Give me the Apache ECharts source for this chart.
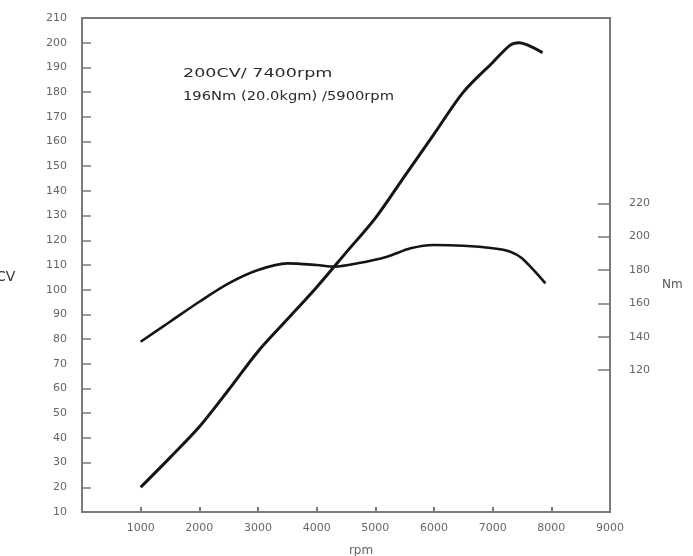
<!DOCTYPE html>
<html>
<head>
<meta charset="utf-8">
<script src="https://cdn.jsdelivr.net/npm/echarts@6/dist/echarts.min.js"></script>
<style>html,body{margin:0;padding:0;background:#fff}#c{width:693px;height:556px}</style>
</head>
<body>
<div id="c"></div>
<script>
// Data
const rpmTicks = [1000, 2000, 3000, 4000, 5000, 6000, 7000, 8000, 9000];
const cvTicks = [10, 20, 30, 40, 50, 60, 70, 80, 90, 100, 110, 120, 130, 140, 150, 160, 170, 180, 190, 200, 210];
const nmTicks = [120, 140, 160, 180, 200, 220];

const powerRpm = [1000, 1500, 2000, 2500, 3000, 3500, 4000, 4500, 5000, 5500, 6000, 6500, 7000, 7300, 7450, 7600, 7850];
const powerCV  = [20, 32, 44.5, 59.5, 75, 88, 101, 115, 129, 146, 163, 180, 192, 199, 200, 199, 196];

const torqueRpm = [1000, 1500, 2000, 2500, 3000, 3500, 4000, 4300, 4700, 5200, 5600, 6000, 6500, 7000, 7300, 7500, 7900];
const torqueNm  = [137, 149, 161, 172, 180, 184, 183, 182, 184, 188, 193, 195, 194.5, 193, 191, 187, 172];

const annotation1 = '200CV/ 7400rpm';
const annotation2 = '196Nm (20.0kgm) /5900rpm';

const pair = (xs, ys) => xs.map((x, i) => [x, ys[i]]);

const labelFont = { color: '#666', fontSize: 11, fontFamily: 'DejaVu Sans' };
const axisCol = '#7a7a7a';

const chart = echarts.init(document.getElementById('c'), null, { renderer: 'canvas' });
chart.setOption({
  animation: false,
  backgroundColor: '#fff',
  grid: { left: 82, top: 18, right: 83, bottom: 44, show: true, borderColor: axisCol, borderWidth: 2, containLabel: false, outerBoundsMode: 'none' },
  xAxis: {
    type: 'value', min: 0, max: 9000, interval: 1000,
    splitLine: { show: false },
    axisLine: { show: true, lineStyle: { color: axisCol, width: 2 } },
    axisTick: { show: true, inside: true, length: 5, lineStyle: { color: axisCol, width: 2 } },
    axisLabel: Object.assign({ margin: 11, formatter: v => (rpmTicks.indexOf(v) >= 0 ? String(v) : '') }, labelFont),
    name: 'rpm', nameLocation: 'middle', nameGap: 33,
    nameTextStyle: Object.assign({}, labelFont, { fontSize: 12, padding: [0, 0, 0, 30] })
  },
  yAxis: [{
    type: 'value', min: 10, max: 210, interval: 10, position: 'left',
    splitLine: { show: false },
    axisLine: { show: true, lineStyle: { color: axisCol, width: 2 } },
    axisTick: { show: true, inside: true, length: 9, lineStyle: { color: axisCol, width: 1.5 }, customValues: cvTicks.slice(1, 20) },
    axisLabel: Object.assign({ margin: 15, customValues: cvTicks }, labelFont)
  }, {
    type: 'value', min: 35, max: 331, position: 'right',
    splitLine: { show: false },
    axisLine: { show: true, lineStyle: { color: axisCol, width: 2 } },
    axisTick: { show: true, inside: true, length: 12, lineStyle: { color: axisCol, width: 1.5 }, customValues: nmTicks },
    axisLabel: Object.assign({ margin: 19, customValues: nmTicks }, labelFont)
  }],
  graphic: [
    { type: 'text', left: -4, top: 270, style: { text: 'CV', fill: '#333', font: '14px "DejaVu Sans"' } },
    { type: 'text', left: 662, top: 279, style: { text: 'Nm', fill: '#555', font: '12px "DejaVu Sans"' } },
    { type: 'text', x: 183, y: 67, scaleX: 1.35, style: { text: annotation1, fill: '#2a2a2a', font: '13px "DejaVu Sans"' } },
    { type: 'text', x: 183, y: 90, scaleX: 1.13, style: { text: annotation2, fill: '#2a2a2a', font: '13px "DejaVu Sans"' } }
  ],
  series: [{
    type: 'line', yAxisIndex: 0, data: pair(powerRpm, powerCV), smooth: 0.3,
    showSymbol: false, lineStyle: { color: '#151515', width: 3 }
  }, {
    type: 'line', yAxisIndex: 1, data: pair(torqueRpm, torqueNm), smooth: 0.3,
    showSymbol: false, lineStyle: { color: '#151515', width: 2.6 }
  }]
});
</script>
</body>
</html>
